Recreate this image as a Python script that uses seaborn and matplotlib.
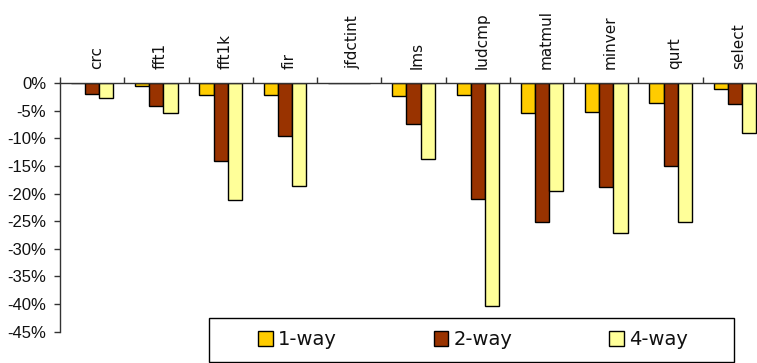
import matplotlib
matplotlib.use("Agg")
import matplotlib.pyplot as plt
import matplotlib.ticker as mticker
from matplotlib.patches import Rectangle
from matplotlib.transforms import ScaledTranslation
import pandas as pd
import seaborn as sns

# Benchmarks and relative change per cache configuration (percent)
categories = ["crc", "fft1", "fft1k", "fir", "jfdctint", "lms",
              "ludcmp", "matmul", "minver", "qurt", "select"]
one_way = [0.0, -0.5, -2.2, -2.2, 0.0, -2.4, -2.1, -5.5, -5.2, -3.6, -1.0]
two_way = [-1.9, -4.1, -14.2, -9.5, 0.0, -7.4, -20.9, -25.2, -18.9, -15.1, -3.8]
four_way = [-2.7, -5.5, -21.2, -18.7, 0.0, -13.7, -40.3, -19.5, -27.1, -25.1, -9.1]
series_names = ["1-way", "2-way", "4-way"]
series_colors = ["#FFCC00", "#993300", "#FFFF99"]
y_ticks = [0, -5, -10, -15, -20, -25, -30, -35, -40, -45]

df = pd.DataFrame({
    "benchmark": categories * 3,
    "config": [s for s in series_names for _ in categories],
    "change": one_way + two_way + four_way,
})

sns.set_theme(style="white")
plt.rcParams["font.family"] = ["DejaVu Sans"]

W, H = 757, 363
fig = plt.figure(figsize=(W / 100, H / 100), dpi=100)
x0, x1 = 60, 767
y_top, y_bot = 83, 331.7
ax = fig.add_axes([x0 / W, 1 - y_bot / H, (x1 - x0) / W, (y_bot - y_top) / H])

sns.barplot(data=df, x="benchmark", y="change", hue="config",
            order=categories, hue_order=series_names,
            palette=series_colors, width=0.66, gap=0,
            edgecolor="black", linewidth=1.0, saturation=1, ax=ax)

ax.set_ylim(-45, 0)
ax.set_xlim(-0.5, len(categories) - 0.5)
ax.set_xlabel("")
ax.set_ylabel("")

# Spines: zero line on top, value axis on the left
for side in ("right", "bottom"):
    ax.spines[side].set_visible(False)
for side in ("top", "left"):
    ax.spines[side].set_color("#333333")
    ax.spines[side].set_linewidth(1.0)

ax.set_yticks(y_ticks)
ax.yaxis.set_major_formatter(mticker.FuncFormatter(lambda v, p: f"{v:.0f}%"))
ax.tick_params(axis="y", which="major", direction="out", length=4, width=1,
               color="#333333", labelsize=11, pad=6, left=True,
               labelcolor="#111111")
for lbl in ax.get_yticklabels():
    lbl.set_fontfamily("Liberation Sans")
    lbl.set_fontsize(12)

# Category labels above the zero line, tick marks at category boundaries
ax.xaxis.tick_top()
ax.set_xticks(range(len(categories)))
ax.set_xticklabels(categories, rotation=90, fontsize=11, color="#111111")
ax.tick_params(axis="x", which="major", length=0, pad=10, top=False,
               labeltop=True, labelbottom=False)
ax.set_xticks([i - 0.5 for i in range(len(categories) + 1)], minor=True)
ax.tick_params(axis="x", which="minor", direction="out", length=4, width=1,
               color="#333333", top=True, bottom=False)
shift = ScaledTranslation(4 / 100, 0, fig.dpi_scale_trans)
for lbl in ax.get_xticklabels():
    lbl.set_transform(lbl.get_transform() + shift)
    lbl.set_verticalalignment("bottom")

# Legend entries inside a framed box under the plot
frame_box = Rectangle((209 / W, 1 - 361.7 / H), 525 / W, 44 / H,
                      transform=fig.transFigure, facecolor="white",
                      edgecolor="black", linewidth=1.0, zorder=5)
fig.patches.append(frame_box)

handles, labels = ax.get_legend_handles_labels()
ax.legend_.remove()
leg = fig.legend(handles, labels, ncol=3, loc="center",
                 bbox_to_anchor=(473 / W, 1 - 339.7 / H),
                 bbox_transform=fig.transFigure,
                 fontsize=14, frameon=False,
                 handlelength=0.75, handleheight=0.85, handletextpad=0.25,
                 columnspacing=5.0, borderpad=0.2)
leg.set_zorder(6)
for t in leg.get_texts():
    t.set_color("#111111")

fig.savefig("out.png", dpi=100)
